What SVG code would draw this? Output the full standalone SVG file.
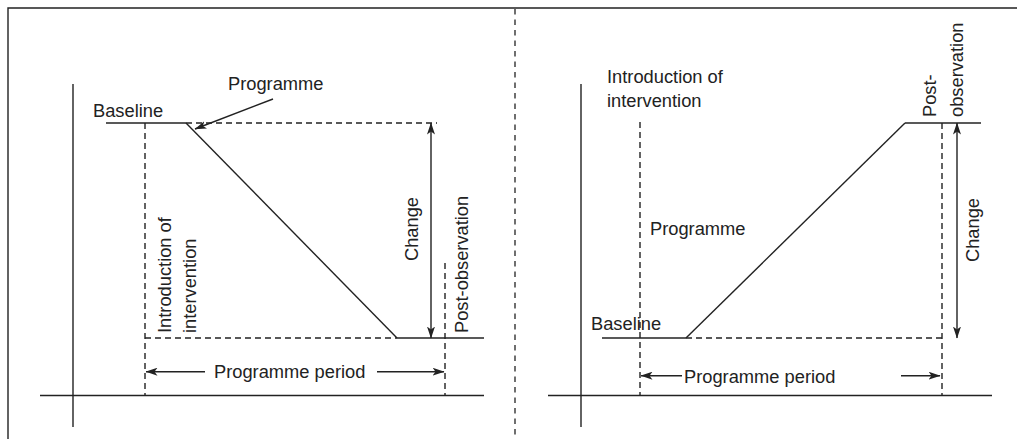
<svg xmlns="http://www.w3.org/2000/svg" width="1017" height="439" viewBox="0 0 1017 439">
<style>
.ln{stroke:#222;stroke-width:1.4;fill:none}
.dl{stroke:#222;stroke-width:1.4;fill:none;stroke-dasharray:6 4}
.dv{stroke:#222;stroke-width:1.3;fill:none;stroke-dasharray:5.5 5}
.t{font-family:"Liberation Sans",Arial,sans-serif;font-size:18.3px;fill:#222}
</style>
<defs>
<marker id="ah" viewBox="0 0 12 8" refX="11.5" refY="4" markerWidth="12" markerHeight="8" markerUnits="userSpaceOnUse" orient="auto-start-reverse">
<path d="M0,0 L12,4 L0,8 L3,4 z" fill="#222"/>
</marker>
</defs>
<rect width="1017" height="439" fill="#fff"/>
<g id="frame">
<path class="ln" d="M8,439 V8 H1017"/>
<line class="dv" x1="515" y1="9" x2="515" y2="439"/>
</g>
<g id="left-panel">
<g id="left-axes">
<line class="ln" x1="73" y1="84" x2="73" y2="427"/>
<line class="ln" x1="40" y1="395.5" x2="484" y2="395.5"/>
</g>
<g id="left-lines">
<line class="ln" x1="106" y1="123" x2="186" y2="123"/>
<line class="dl" x1="186" y1="123" x2="437" y2="123"/>
<line class="ln" x1="186" y1="123" x2="397" y2="338"/>
<line class="dl" x1="145" y1="338" x2="397" y2="338"/>
<line class="ln" x1="397" y1="338" x2="484" y2="338"/>
<line class="dl" x1="145" y1="123" x2="145" y2="396"/>
<line class="dl" x1="445" y1="263" x2="445" y2="396"/>
</g>
<g id="left-labels">
<text class="t" x="228" y="90">Programme</text>
<text class="t" x="93" y="117">Baseline</text>
<text class="t" x="214" y="377.5">Programme period</text>
<text class="t" transform="translate(171,333) rotate(-90)">Introduction of</text>
<text class="t" transform="translate(196,333) rotate(-90)">intervention</text>
<text class="t" text-anchor="middle" transform="translate(418,229) rotate(-90)">Change</text>
<text class="t" transform="translate(468,333) rotate(-90)">Post-observation</text>
</g>
</g>
<g id="right-panel">
<g id="right-axes">
<line class="ln" x1="581" y1="84" x2="581" y2="427"/>
<line class="ln" x1="548" y1="395.5" x2="992" y2="395.5"/>
</g>
<g id="right-lines">
<line class="ln" x1="602" y1="338" x2="686" y2="338"/>
<line class="dl" x1="686" y1="338" x2="942" y2="338"/>
<line class="ln" x1="686" y1="338" x2="905" y2="123"/>
<line class="ln" x1="905" y1="123" x2="981" y2="123"/>
<line class="dl" x1="640" y1="122" x2="640" y2="396"/>
<line class="dl" x1="942" y1="123" x2="942" y2="396"/>
</g>
<g id="right-labels">
<text class="t" x="607" y="83">Introduction of</text>
<text class="t" x="607" y="107">intervention</text>
<text class="t" x="650" y="235">Programme</text>
<text class="t" x="591" y="330">Baseline</text>
<text class="t" x="684" y="382.5">Programme period</text>
<text class="t" text-anchor="middle" transform="translate(979,230) rotate(-90)">Change</text>
<text class="t" transform="translate(936,117) rotate(-90)">Post-</text>
<text class="t" transform="translate(963,117) rotate(-90)">observation</text>
</g>
</g>
<g id="connectors">
<line class="ln" x1="273" y1="99" x2="195" y2="129" marker-end="url(#ah)"/>
<line class="ln" x1="431" y1="123" x2="431" y2="338" marker-start="url(#ah)" marker-end="url(#ah)"/>
<line class="ln" x1="205" y1="371.7" x2="146" y2="371.7" marker-end="url(#ah)"/>
<line class="ln" x1="377" y1="371.7" x2="444" y2="371.7" marker-end="url(#ah)"/>
<line class="ln" x1="957" y1="123" x2="957" y2="338" marker-start="url(#ah)" marker-end="url(#ah)"/>
<line class="ln" x1="682" y1="375.7" x2="641" y2="375.7" marker-end="url(#ah)"/>
<line class="ln" x1="901" y1="375.7" x2="940" y2="375.7" marker-end="url(#ah)"/>
</g>
</svg>
